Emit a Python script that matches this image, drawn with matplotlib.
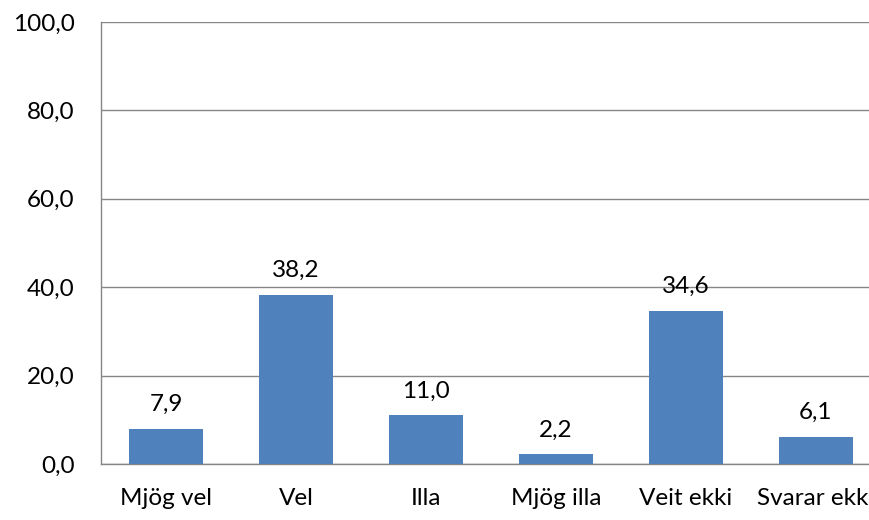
import matplotlib
matplotlib.use("Agg")
import matplotlib.pyplot as plt
from matplotlib.ticker import FuncFormatter

categories = ["Mjög vel", "Vel", "Illa", "Mjög illa", "Veit ekki", "Svarar ekki"]
values = [7.9, 38.2, 11.0, 2.2, 34.6, 6.1]
yticks = [0, 20, 40, 60, 80, 100]

plt.rcParams['font.family'] = ['Lato', 'DejaVu Sans']

W, H = 870, 520
fig = plt.figure(figsize=(W / 100, H / 100), dpi=100)
left, right, bottom, top = 101, 881, 464, 22
ax = fig.add_axes([left / W, (H - bottom) / H, (right - left) / W, (bottom - top) / H])

FS = 17.5
x = list(range(len(categories)))
bars = ax.bar(x, values, width=0.57, color="#4F81BD", zorder=3)
ax.set_xlim(-0.5, len(categories) - 0.5)
ax.set_ylim(0, 100)
ax.set_yticks(yticks)
ax.yaxis.set_major_formatter(FuncFormatter(lambda v, p: f"{v:.1f}".replace(".", ",")))
ax.set_xticks(x)
ax.set_xticklabels(categories)
ax.grid(axis="y", color="#868686", linewidth=1, zorder=0)
for s in ["top", "right"]:
    ax.spines[s].set_visible(False)
for s in ["left", "bottom"]:
    ax.spines[s].set_color("#868686")
    ax.spines[s].set_linewidth(1)
ax.tick_params(axis="both", length=0, labelsize=FS, colors="black")
ax.tick_params(axis="y", pad=19)
ax.tick_params(axis="x", pad=17)

for xi, v in zip(x, values):
    ax.annotate(f"{v:.1f}".replace(".", ","), (xi, v), xytext=(0, 10),
                textcoords="offset points", ha="center", va="bottom", fontsize=FS)

fig.savefig("out.png", dpi=100)
